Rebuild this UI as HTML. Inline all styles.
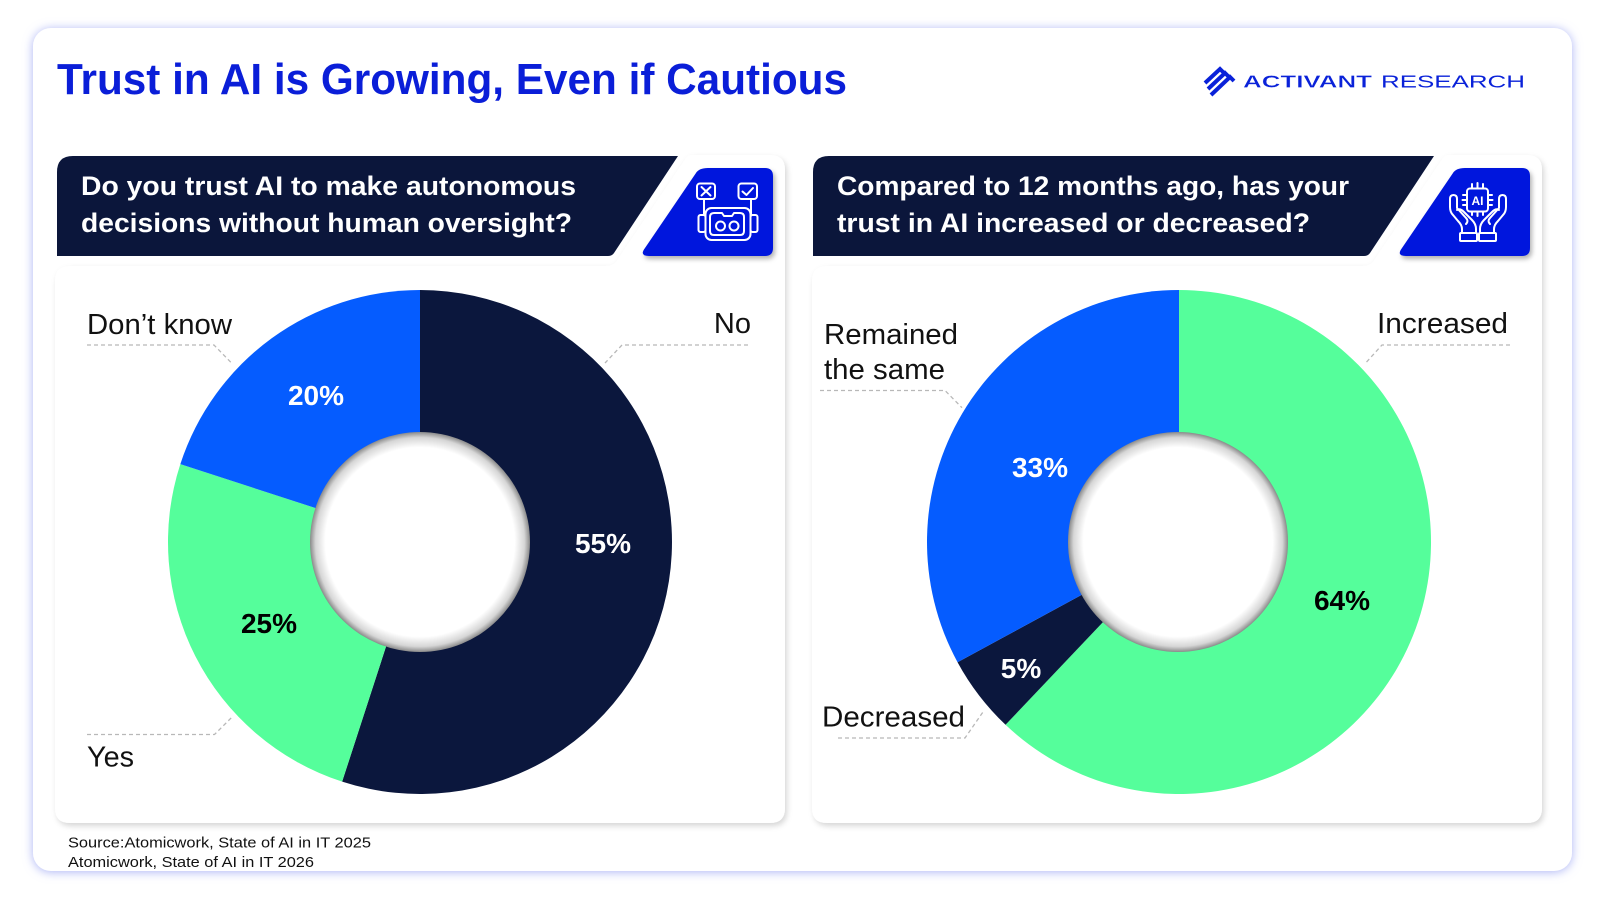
<!DOCTYPE html>
<html>
<head>
<meta charset="utf-8">
<style>
  html,body{margin:0;padding:0;background:#ffffff;}
  svg{display:block;}
  text{font-family:"Liberation Sans", Arial, sans-serif;}
</style>
</head>
<body>
<svg width="1600" height="900" viewBox="0 0 1600 900" xmlns="http://www.w3.org/2000/svg">
  <defs>
    <filter id="outerGlow" x="-5%" y="-5%" width="110%" height="110%">
      <feDropShadow dx="0" dy="1" stdDeviation="5" flood-color="#8f99f2" flood-opacity="0.75"/>
    </filter>
    <filter id="cardShadow" x="-5%" y="-5%" width="110%" height="110%">
      <feDropShadow dx="2" dy="3" stdDeviation="3" flood-color="#000" flood-opacity="0.16"/>
    </filter>
    <filter id="boxShadow" x="-10%" y="-10%" width="125%" height="130%">
      <feDropShadow dx="2" dy="3" stdDeviation="2.5" flood-color="#000" flood-opacity="0.3"/>
    </filter>
    <radialGradient id="hole" cx="50%" cy="50%" r="50%">
      <stop offset="0" stop-color="#ffffff"/>
      <stop offset="0.86" stop-color="#ffffff"/>
      <stop offset="0.95" stop-color="#d6d6d6"/>
      <stop offset="1" stop-color="#8a8a8a"/>
    </radialGradient>
  </defs>

  <!-- outer card -->
  <rect x="33" y="28" width="1539" height="843" rx="18" ry="18" fill="#ffffff" filter="url(#outerGlow)"/>

  <!-- title -->
  <text x="57" y="94" font-size="44" font-weight="bold" fill="#0a1ed8" textLength="790" lengthAdjust="spacingAndGlyphs">Trust in AI is Growing, Even if Cautious</text>

  <!-- logo -->
  <g stroke="#0a22d9" stroke-width="4" fill="none" stroke-linecap="butt">
    <path d="M1205,83 L1220,69 L1224,73"/>
    <path d="M1208,89 L1225,73 L1229,77"/>
    <path d="M1211,95 L1230,77 L1234,81"/>
  </g>
  <text x="1243" y="87.5" font-size="17.5" font-weight="bold" fill="#0a22d9" stroke="#ffffff" stroke-width="0.3" textLength="129" lengthAdjust="spacingAndGlyphs">ACTIVANT</text>
  <text x="1381" y="87.5" font-size="17.5" fill="#0a22d9" textLength="144" lengthAdjust="spacingAndGlyphs">RESEARCH</text>

  <!-- LEFT PANEL -->
  <path d="M55,281 Q55,266 70,266 L606,266 Q614,266 618,259 L686,158 Q688,155 692,155 H770 Q785,155 785,170 V808 Q785,823 770,823 H70 Q55,823 55,808 Z" fill="#ffffff" filter="url(#cardShadow)"/>
  <path d="M57,172 Q57,156 73,156 L678,156 L614,253 Q612,256 608,256 L57,256 Z" fill="#0b163b"/>
  <text x="81" y="195" font-size="27" font-weight="bold" fill="#ffffff" textLength="495" lengthAdjust="spacingAndGlyphs">Do you trust AI to make autonomous</text>
  <text x="81" y="232" font-size="27" font-weight="bold" fill="#ffffff" textLength="491" lengthAdjust="spacingAndGlyphs">decisions without human oversight?</text>

  <path d="M708,168 H765 Q773,168 773,176 V248 Q773,256 765,256 H649 Q639,256 645,248 L696,173 Q699,168 708,168 Z" fill="#0216dd" filter="url(#boxShadow)"/>
  <!-- robot icon -->
  <g stroke="#ffffff" stroke-width="2" fill="none" stroke-linecap="round" stroke-linejoin="round">
    <rect x="697" y="183.5" width="18" height="15.5" rx="3"/>
    <path d="M701.5,187 L710.5,195.5 M710.5,187 L701.5,195.5"/>
    <rect x="738.5" y="183.5" width="18.5" height="15.5" rx="3"/>
    <path d="M742.5,191.5 L746.5,195 L753,188"/>
    <path d="M704,199 V215 M751,199 V215"/>
    <rect x="705.5" y="208" width="45" height="32" rx="6"/>
    <rect x="698.5" y="215" width="7" height="17" rx="2"/>
    <rect x="750.5" y="215" width="7" height="17" rx="2"/>
    <path d="M714,213 H722 L724,216 H732 L734,213 H740 Q744,213 744,217 V231 Q744,235 740,235 H714 Q710,235 710,231 V217 Q710,213 714,213 Z"/>
    <circle cx="720.5" cy="226" r="4.5"/>
    <circle cx="734" cy="226" r="4.5"/>
  </g>

  <!-- left donut -->
  <path d="M420,542 L420,290 A252,252 0 1 1 342.13,781.67 Z" fill="#0b173d"/>
  <path d="M420,542 L342.13,781.67 A252,252 0 0 1 180.33,464.13 Z" fill="#55fe9b"/>
  <path d="M420,542 L180.33,464.13 A252,252 0 0 1 420,290 Z" fill="#055cff"/>
  <circle cx="420" cy="542" r="110" fill="url(#hole)"/>

  <text x="316" y="405" font-size="28" font-weight="bold" fill="#ffffff" text-anchor="middle">20%</text>
  <text x="603" y="553" font-size="28" font-weight="bold" fill="#ffffff" text-anchor="middle">55%</text>
  <text x="269" y="633" font-size="28" font-weight="bold" fill="#000000" text-anchor="middle">25%</text>

  <g stroke="#b8b8b8" stroke-width="1.3" fill="none" stroke-dasharray="4 3">
    <path d="M87,345 H214 L231.5,363"/>
    <path d="M748,345 H622 L605,363"/>
    <path d="M87,734.5 H214.5 L231.5,717.6"/>
  </g>
  <text x="87" y="334" font-size="29" fill="#111111" textLength="145" lengthAdjust="spacingAndGlyphs">Don’t know</text>
  <text x="751" y="333" font-size="29" fill="#111111" text-anchor="end">No</text>
  <text x="87" y="766.5" font-size="29" fill="#111111" textLength="47" lengthAdjust="spacingAndGlyphs">Yes</text>

  <!-- RIGHT PANEL -->
  <path d="M812,281 Q812,266 827,266 L1363,266 Q1371,266 1375,259 L1443,158 Q1445,155 1449,155 H1527 Q1542,155 1542,170 V808 Q1542,823 1527,823 H827 Q812,823 812,808 Z" fill="#ffffff" filter="url(#cardShadow)"/>
  <path d="M813,172 Q813,156 829,156 L1434,156 L1370,253 Q1368,256 1364,256 L813,256 Z" fill="#0b163b"/>
  <text x="837" y="195" font-size="27" font-weight="bold" fill="#ffffff" textLength="512" lengthAdjust="spacingAndGlyphs">Compared to 12 months ago, has your</text>
  <text x="837" y="232" font-size="27" font-weight="bold" fill="#ffffff" textLength="473" lengthAdjust="spacingAndGlyphs">trust in AI increased or decreased?</text>

  <path d="M1465,168 H1522 Q1530,168 1530,176 V248 Q1530,256 1522,256 H1406 Q1396,256 1402,248 L1453,173 Q1456,168 1465,168 Z" fill="#0216dd" filter="url(#boxShadow)"/>
  <!-- hands + AI chip icon -->
  <g stroke="#ffffff" stroke-width="2" fill="none" stroke-linecap="round" stroke-linejoin="round">
    <rect x="1467" y="188.5" width="21" height="23" rx="3"/>
    <path d="M1472,188 V184 M1477.5,188 V183 M1483,188 V184"/>
    <path d="M1472,212 V215 M1477.5,212 V216 M1483,212 V215"/>
    <path d="M1467,195 H1463 M1467,200 H1462.5 M1467,205 H1463"/>
    <path d="M1488,195 H1492 M1488,200 H1492.5 M1488,205 H1492"/>
    <!-- left hand -->
    <path d="M1462,233 V229 Q1462,225 1458,221 L1453,215 Q1450,212 1450,207 V199 Q1450,195 1453.5,195 Q1457,195 1457,199 V208 L1466,218 Q1469,221 1466,224"/>
    <path d="M1457,210 Q1460,208 1464,212 L1472,220 Q1476,224 1476,229 V233"/>
    <rect x="1460" y="233" width="17" height="8" rx="1"/>
    <!-- right hand -->
    <path d="M1494,233 V229 Q1494,225 1498,221 L1503,215 Q1506,212 1506,207 V199 Q1506,195 1502.5,195 Q1499,195 1499,199 V208 L1490,218 Q1487,221 1490,224"/>
    <path d="M1499,210 Q1496,208 1492,212 L1484,220 Q1480,224 1480,229 V233"/>
    <rect x="1479" y="233" width="17" height="8" rx="1"/>
  </g>
  <text x="1477.5" y="205" font-size="12" font-weight="bold" fill="#ffffff" text-anchor="middle">AI</text>

  <!-- right donut -->
  <path d="M1179,542 L1179,290 A252,252 0 1 1 1005.54,724.79 Z" fill="#55fe9b"/>
  <path d="M1179,542 L1005.54,724.79 A252,252 0 0 1 957.54,662.24 Z" fill="#0b173d"/>
  <path d="M1179,542 L957.54,662.24 A252,252 0 0 1 1179,290 Z" fill="#055cff"/>
  <circle cx="1178" cy="542" r="110" fill="url(#hole)"/>

  <text x="1040" y="477" font-size="28" font-weight="bold" fill="#ffffff" text-anchor="middle">33%</text>
  <text x="1342" y="610" font-size="28" font-weight="bold" fill="#000000" text-anchor="middle">64%</text>
  <text x="1021" y="678" font-size="28" font-weight="bold" fill="#ffffff" text-anchor="middle">5%</text>

  <g stroke="#b8b8b8" stroke-width="1.3" fill="none" stroke-dasharray="4 3">
    <path d="M1510,345 H1382 L1365,363.7"/>
    <path d="M820,390.5 H945 L962,407.7"/>
    <path d="M838,738 H965 L983,712"/>
  </g>
  <text x="1377" y="333" font-size="29" fill="#111111" textLength="131" lengthAdjust="spacingAndGlyphs">Increased</text>
  <text x="824" y="344" font-size="29" fill="#111111" textLength="134" lengthAdjust="spacingAndGlyphs">Remained</text>
  <text x="824" y="379" font-size="29" fill="#111111" textLength="121" lengthAdjust="spacingAndGlyphs">the same</text>
  <text x="822" y="726.5" font-size="29" fill="#111111" textLength="143" lengthAdjust="spacingAndGlyphs">Decreased</text>

  <!-- source -->
  <text x="68" y="847.5" font-size="15" fill="#111111" textLength="303" lengthAdjust="spacingAndGlyphs">Source:Atomicwork, State of AI in IT 2025</text>
  <text x="68" y="867" font-size="15" fill="#111111" textLength="246" lengthAdjust="spacingAndGlyphs">Atomicwork, State of AI in IT 2026</text>
</svg>
</body>
</html>
